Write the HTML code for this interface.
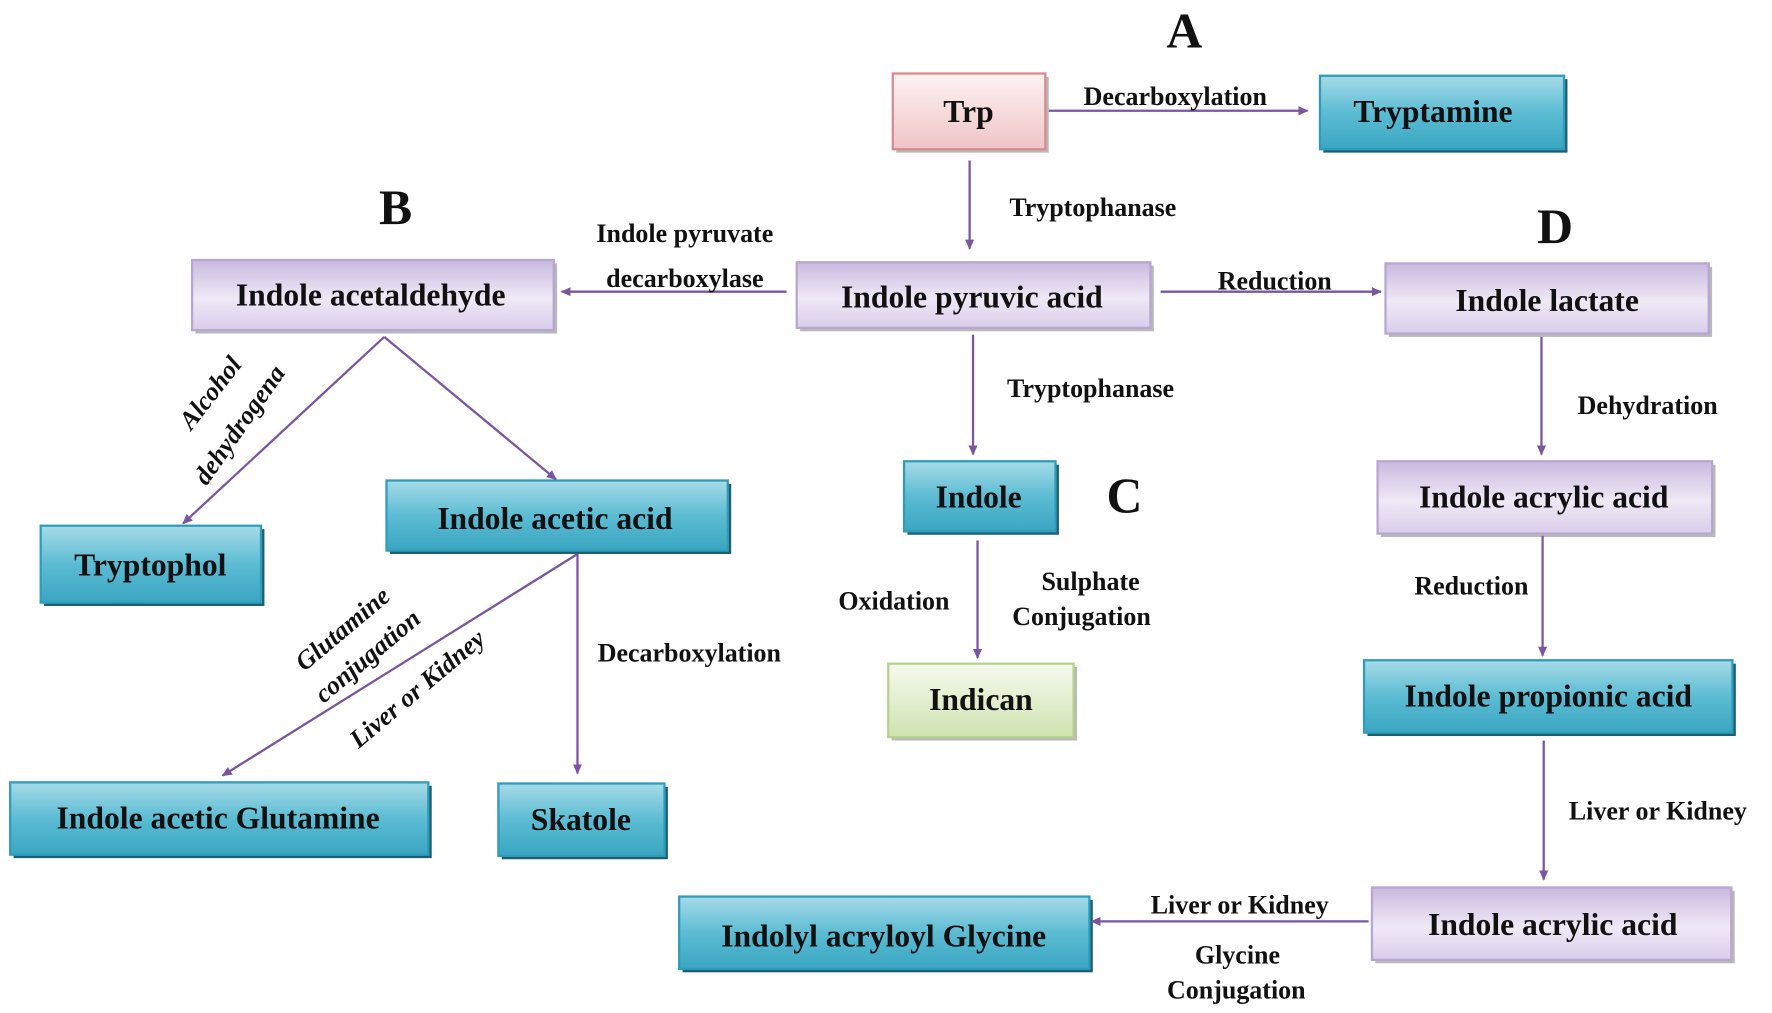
<!DOCTYPE html>
<html><head><meta charset="utf-8"><style>
html,body{margin:0;padding:0;background:#fff;}
svg{display:block;}
text{font-family:"Liberation Serif",serif;font-weight:bold;fill:#111;}
</style></head><body>
<svg width="1772" height="1013" viewBox="0 0 1568 896" preserveAspectRatio="none" xmlns="http://www.w3.org/2000/svg">
<defs>
<linearGradient id="teal" x1="0" y1="0" x2="0" y2="1">
<stop offset="0" stop-color="#a6dbe8"/><stop offset="0.5" stop-color="#5cbcd3"/><stop offset="1" stop-color="#3aa6c2"/></linearGradient>
<linearGradient id="purp" x1="0" y1="0" x2="0" y2="1">
<stop offset="0" stop-color="#c9b9df"/><stop offset="0.55" stop-color="#efe9f6"/><stop offset="1" stop-color="#d9cdea"/></linearGradient>
<linearGradient id="pink" x1="0" y1="0" x2="0" y2="1">
<stop offset="0" stop-color="#fdf3f3"/><stop offset="1" stop-color="#f0c4c6"/></linearGradient>
<linearGradient id="green" x1="0" y1="0" x2="0" y2="1">
<stop offset="0" stop-color="#f6faee"/><stop offset="1" stop-color="#cfe3b0"/></linearGradient>
<marker id="ah" markerWidth="10" markerHeight="10" refX="8" refY="5" orient="auto" markerUnits="userSpaceOnUse">
<path d="M0,1 L9,5 L0,9 Z" fill="#7a55a0"/></marker>
</defs>

<g stroke-width="2">
<!-- shadows -->
<g fill="#8a8a8a" stroke="none" opacity="0.6">
<rect x="793" y="68" width="135" height="67"/><rect x="1229" y="236" width="286" height="62"/>
<rect x="173" y="233" width="320" height="62"/><rect x="708" y="235" width="313" height="58"/>
<rect x="1222" y="411" width="296" height="64"/><rect x="1217" y="788" width="318" height="64"/>
<rect x="789" y="590" width="164" height="65"/>
</g>
<g fill="#1d5f70" stroke="none">
<rect x="1171" y="70" width="216" height="65"/><rect x="39" y="468" width="195" height="68"/>
<rect x="345" y="428" width="302" height="62"/><rect x="803" y="411" width="134" height="62"/>
<rect x="1210" y="587" width="326" height="64"/><rect x="12" y="695" width="370" height="64"/>
<rect x="444" y="696" width="147" height="64"/><rect x="604" y="796" width="363" height="64"/>
</g>
<rect x="790" y="65" width="135" height="67" fill="url(#pink)" stroke="#d98a8e"/>
<g fill="url(#teal)" stroke="#2e9cba">
<rect x="1168" y="67" width="216" height="65"/><rect x="36" y="465" width="195" height="68"/>
<rect x="342" y="425" width="302" height="62"/><rect x="800" y="408" width="134" height="62"/>
<rect x="1207" y="584" width="326" height="64"/><rect x="9" y="692" width="370" height="64"/>
<rect x="441" y="693" width="147" height="64"/><rect x="601" y="793" width="363" height="64"/>
</g>
<g fill="url(#purp)" stroke="#b7a6d0">
<rect x="170" y="230" width="320" height="62"/><rect x="705" y="232" width="313" height="58"/>
<rect x="1226" y="233" width="286" height="62"/><rect x="1219" y="408" width="296" height="64"/>
<rect x="1214" y="785" width="318" height="64"/>
</g>
<rect x="786" y="587" width="164" height="65" fill="url(#green)" stroke="#b6d08e"/>
</g>

<g stroke="#7a55a0" stroke-width="2" fill="none" marker-end="url(#ah)">
<line x1="928" y1="98" x2="1157" y2="98"/>
<line x1="858" y1="142" x2="858" y2="220"/>
<line x1="696" y1="258" x2="497" y2="258"/>
<line x1="1027" y1="258" x2="1222" y2="258"/>
<line x1="861" y1="296" x2="861" y2="402"/>
<line x1="340" y1="298" x2="162" y2="463"/>
<line x1="340" y1="298" x2="492" y2="424"/>
<line x1="511" y1="490" x2="197" y2="686"/>
<line x1="511" y1="490" x2="511" y2="684"/>
<line x1="865" y1="478" x2="865" y2="582"/>
<line x1="1364" y1="298" x2="1364" y2="402"/>
<line x1="1365" y1="474" x2="1365" y2="580"/>
<line x1="1366" y1="655" x2="1366" y2="778"/>
<line x1="1211" y1="815" x2="966" y2="815"/>
</g>

<g font-size="28" text-anchor="middle">
<text x="857" y="108">Trp</text>
<text x="1268" y="108">Tryptamine</text>
<text x="328" y="270">Indole acetaldehyde</text>
<text x="860" y="272">Indole pyruvic acid</text>
<text x="1369" y="275">Indole lactate</text>
<text x="133" y="509">Tryptophol</text>
<text x="491" y="468">Indole acetic acid</text>
<text x="866" y="449">Indole</text>
<text x="868" y="628">Indican</text>
<text x="1366" y="449">Indole acrylic acid</text>
<text x="1370" y="625">Indole propionic acid</text>
<text x="193" y="733">Indole acetic Glutamine</text>
<text x="514" y="734">Skatole</text>
<text x="782" y="837">Indolyl acryloyl Glycine</text>
<text x="1374" y="827">Indole acrylic acid</text>
</g>
<g font-size="44" text-anchor="middle">
<text x="1048" y="42">A</text><text x="350" y="198">B</text>
<text x="995" y="453">C</text><text x="1376" y="215">D</text>
</g>
<g font-size="23" text-anchor="middle">
<text x="1040" y="93">Decarboxylation</text>
<text x="967" y="191">Tryptophanase</text>
<text x="606" y="214">Indole pyruvate</text>
<text x="606" y="254">decarboxylase</text>
<text x="1128" y="256">Reduction</text>
<text x="965" y="351">Tryptophanase</text>
<text x="1458" y="366">Dehydration</text>
<text x="791" y="539">Oxidation</text>
<text x="965" y="522">Sulphate</text>
<text x="957" y="553">Conjugation</text>
<text x="1302" y="526">Reduction</text>
<text x="610" y="585">Decarboxylation</text>
<text x="1467" y="725">Liver or Kidney</text>
<text x="1097" y="808">Liver or Kidney</text>
<text x="1095" y="852">Glycine</text>
<text x="1094" y="883">Conjugation</text>
<text transform="translate(192,352) rotate(-52)" font-style="italic">Alcohol</text>
<text transform="translate(218,380) rotate(-55)" font-style="italic">dehydrogena</text>
<text transform="translate(308,562) rotate(-40)" font-style="italic">Glutamine</text>
<text transform="translate(330,586) rotate(-40)" font-style="italic">conjugation</text>
<text transform="translate(374,615) rotate(-40)" font-style="italic">Liver or Kidney</text>
</g>
</svg>
</body></html>
